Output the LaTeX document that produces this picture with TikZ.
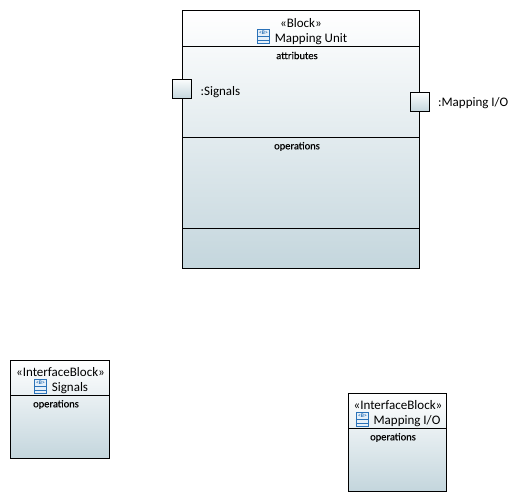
\documentclass[tikz,border=0pt]{standalone}
\usepackage{fontspec}
\setmainfont{Carlito}
\newfontfamily\compfont[FakeBold=0.3]{Carlito}
\usepackage{xcolor}
\usetikzlibrary{positioning}
\definecolor{blockbottom}{HTML}{C4D6DD}
\definecolor{iconblue}{HTML}{2A72B8}
\definecolor{iconfill}{HTML}{E6F0F9}

\begin{document}
\begin{tikzpicture}[x=1pt, y=-1pt]
\tikzstyle{block} = [rectangle, draw=black, line width=0.9pt, top color=white, bottom color=blockbottom, inner sep=0pt, outer sep=0pt, anchor=north west]
\tikzstyle{port} = [rectangle, draw=black, line width=0.9pt, top color=white!92!blockbottom, bottom color=blockbottom, minimum size=19pt, inner sep=0pt, anchor=north west]
\tikzstyle{label} = [inner sep=0pt, font=\fontsize{13}{13}\selectfont]
\tikzstyle{comp} = [inner sep=0pt, font=\compfont\fontsize{10.5}{10.5}\selectfont]
\tikzstyle{divider} = [draw=black, line width=0.9pt]
\tikzstyle{icon} = [rectangle, draw=iconblue, line width=0.9pt, fill=iconfill, minimum width=12.5pt, minimum height=14.5pt, inner sep=0pt]
\tikzstyle{icontext} = [inner sep=0pt, text=iconblue, font=\bfseries\fontsize{5.5}{5.5}\selectfont]
\tikzstyle{iconline} = [draw=iconblue, line width=0.9pt]

\useasboundingbox (0,0) rectangle (520,502);

% Mapping Unit
\node [block, minimum width=237pt, minimum height=258pt] (unit) at (182.5,10.5) {};
\draw [divider] (unit.west |- 0,46.5) -- (unit.east |- 0,46.5);
\draw [divider] (unit.west |- 0,137.5) -- (unit.east |- 0,137.5);
\draw [divider] (unit.west |- 0,228.5) -- (unit.east |- 0,228.5);
\node [label] (unitstereo) at (301,23) {«Block»};
\node [label] (unitname) at (311,39) {Mapping Unit};
\node [icon] (uniticon) at (263.5,36.5) {};
\node [icontext] (uniticont) at (263.5,33) {<B>};
\draw [iconline] (uniticon.west |- 0,40) -- (uniticon.east |- 0,40);
\draw [iconline] (uniticon.west |- 0,36) -- (uniticon.east |- 0,36);
\node [comp] (unitattr) at (297,55.5) {attributes};
\node [comp] (unitoper) at (297,146.5) {operations};

% ports
\node [port] (portsig) at (172,79) {};
\node [label, right=8.5pt of portsig, yshift=-3pt] (portsiglabel) {:Signals};
\node [port] (portio) at (410,92) {};
\node [label, right=8pt of portio, yshift=-1.5pt] (portiolabel) {:Mapping I/O};

% Signals
\node [block, minimum width=98.5pt, minimum height=98pt] (signals) at (10.5,360) {};
\draw [divider] (signals.west |- 0,395.5) -- (signals.east |- 0,395.5);
\node [label] (sigstereo) at (60.5,372) {«InterfaceBlock»};
\node [label] (signame) at (70,388) {Signals};
\node [icon] (sigicon) at (40.5,386.5) {};
\node [icontext] (sigicont) at (40.5,383) {<B>};
\draw [iconline] (sigicon.west |- 0,390) -- (sigicon.east |- 0,390);
\draw [iconline] (sigicon.west |- 0,386) -- (sigicon.east |- 0,386);
\node [comp] (sigoper) at (56,404.5) {operations};

% Mapping I/O
\node [block, minimum width=98.5pt, minimum height=98pt] (mapio) at (348,393) {};
\draw [divider] (mapio.west |- 0,428.5) -- (mapio.east |- 0,428.5);
\node [label] (iostereo) at (398,405) {«InterfaceBlock»};
\node [label] (ioname) at (407,421) {Mapping I/O};
\node [icon] (ioicon) at (362.5,419.5) {};
\node [icontext] (ioicont) at (362.5,416) {<B>};
\draw [iconline] (ioicon.west |- 0,423) -- (ioicon.east |- 0,423);
\draw [iconline] (ioicon.west |- 0,419) -- (ioicon.east |- 0,419);
\node [comp] (iooper) at (393,437.5) {operations};
\end{tikzpicture}
\end{document}
